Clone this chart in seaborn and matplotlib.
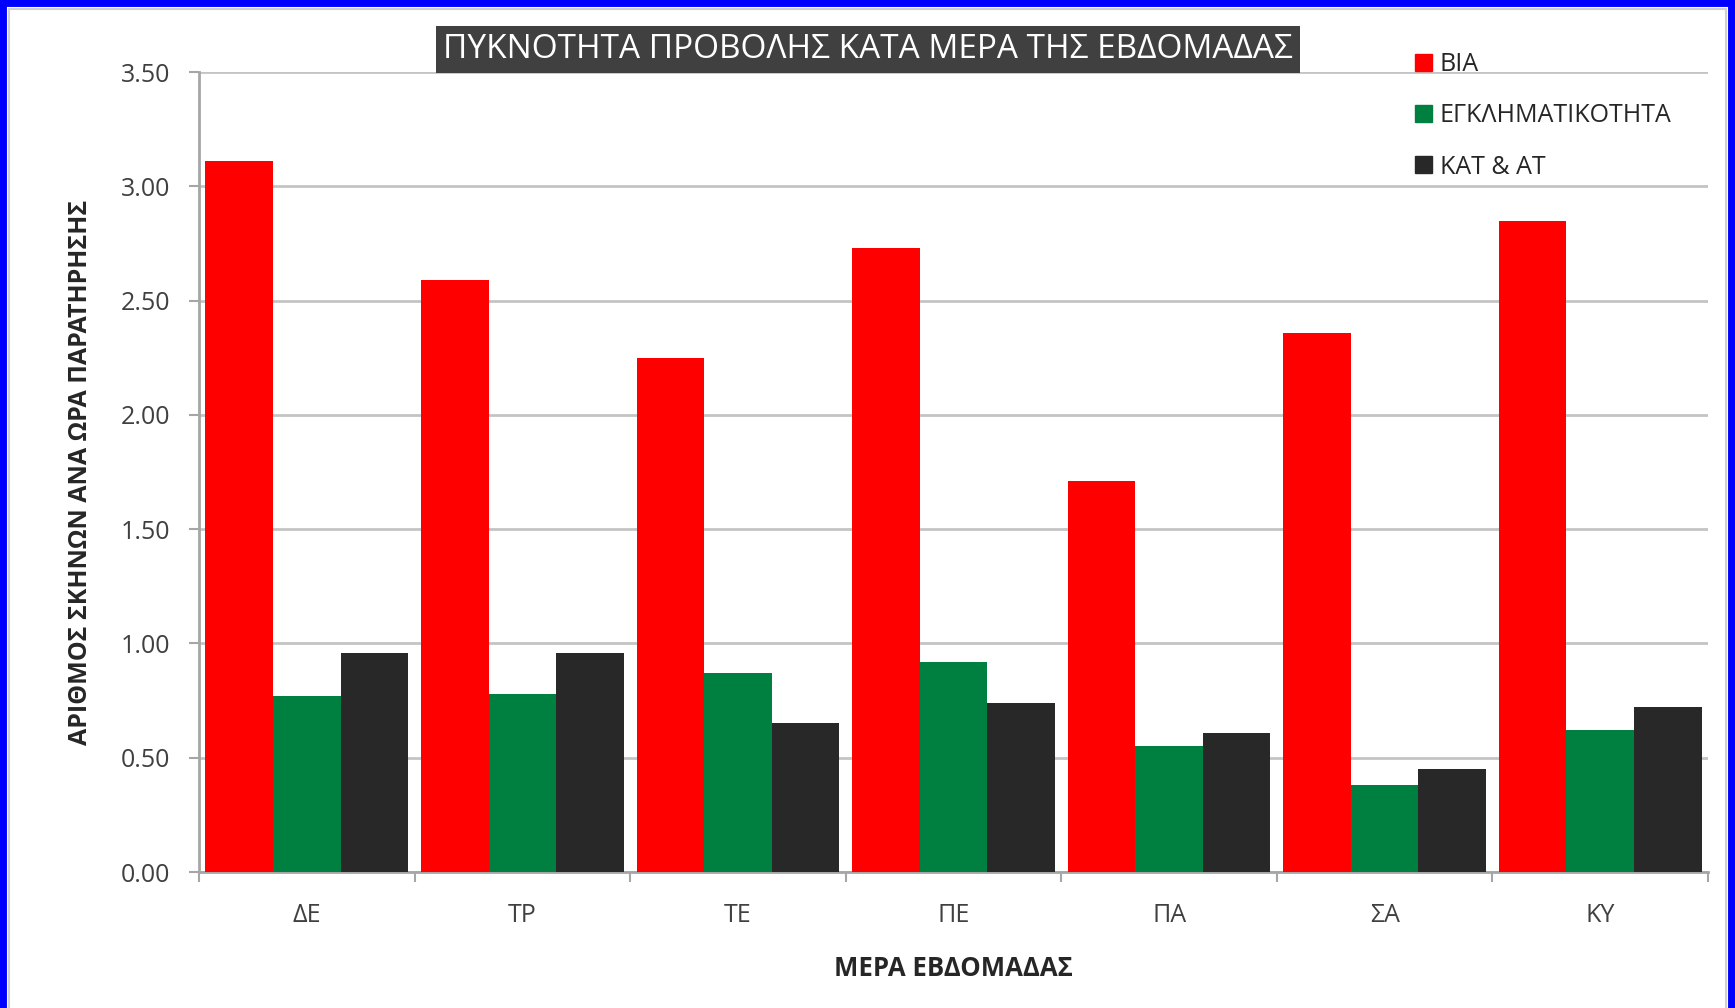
import numpy as np
import pandas as pd
import matplotlib.pyplot as plt
import matplotlib.patches as mpatches
import seaborn as sns

days = ["ΔΕ", "ΤΡ", "ΤΕ", "ΠΕ", "ΠΑ", "ΣΑ", "ΚΥ"]
series = ["ΒΙΑ", "ΕΓΚΛΗΜΑΤΙΚΟΤΗΤΑ", "ΚΑΤ & ΑΤ"]
via = [3.11, 2.59, 2.25, 2.73, 1.71, 2.36, 2.85]
egklim = [0.77, 0.78, 0.87, 0.92, 0.55, 0.38, 0.62]
kat_at = [0.96, 0.96, 0.65, 0.74, 0.61, 0.45, 0.72]
colors = ["#ff0000", "#008040", "#282828"]

df = pd.DataFrame({
    "day": days * 3,
    "series": [series[0]] * 7 + [series[1]] * 7 + [series[2]] * 7,
    "value": via + egklim + kat_at,
})

sns.set_style("white")
plt.rcParams['font.family'] = ['Open Sans', 'DejaVu Sans']

fig = plt.figure(figsize=(17.35, 10.08), dpi=100)
ax = fig.add_axes([199 / 1735, 1 - 872 / 1008, 1509 / 1735, 800 / 1008])

sns.barplot(data=df, x="day", y="value", hue="series", order=days,
            hue_order=series, palette=colors, saturation=1, width=0.94,
            gap=0, linewidth=0, legend=False, ax=ax, zorder=3)

ax.set_ylim(0, 3.5)
ax.set_xlim(-0.5, 6.5)
ax.set_yticks(np.arange(0, 3.51, 0.5))
ax.set_yticklabels([f"{v:.2f}" for v in np.arange(0, 3.51, 0.5)])
ax.yaxis.grid(True, color="#c4c4c4", linewidth=2, zorder=0)
ax.set_axisbelow(True)

for s in ["top", "right"]:
    ax.spines[s].set_visible(False)
for s in ["left", "bottom"]:
    ax.spines[s].set_color("#a6a6a6")
    ax.spines[s].set_linewidth(2)

ax.tick_params(axis="y", length=7, width=1.5, color="#a6a6a6", pad=14,
               labelsize=18, labelcolor="#404040", left=True)
ax.tick_params(axis="x", length=0, pad=22, labelsize=18, labelcolor="#404040")
ax.set_xticks(np.arange(-0.5, 7, 1), minor=True)
ax.tick_params(axis="x", which="minor", length=7, width=1.5, color="#a6a6a6",
               bottom=True)

ax.set_ylabel("ΑΡΙΘΜΟΣ ΣΚΗΝΩΝ ΑΝΑ ΩΡΑ ΠΑΡΑΤΗΡΗΣΗΣ", fontsize=18,
              fontweight="bold", labelpad=20)
ax.set_xlabel("ΜΕΡΑ ΕΒΔΟΜΑΔΑΣ", fontsize=18.5, fontweight="bold", labelpad=20)

# title in a dark box
fig.text(868 / 1735, 1 - 49.5 / 1008, "ΠΥΚΝΟΤΗΤΑ ΠΡΟΒΟΛΗΣ ΚΑΤΑ ΜΕΡΑ ΤΗΣ ΕΒΔΟΜΑΔΑΣ",
         ha="center", va="center", color="white", fontsize=24,
         bbox=dict(facecolor="#404040", edgecolor="none", pad=5))

handles = [mpatches.Patch(color=c, label=s) for c, s in zip(colors, series)]
fig.legend(handles=handles, loc="upper left", bbox_to_anchor=(1405 / 1735, 1 - 42 / 1008),
           frameon=False, fontsize=18, handlelength=0.68, handleheight=0.68,
           handletextpad=0.3, labelspacing=1.05, borderaxespad=0)

# blue frame around the picture
fig.add_artist(mpatches.Rectangle((0, -0.05), 1, 1.05, transform=fig.transFigure,
                                  fill=False, edgecolor="#0000ff", linewidth=10))
fig.add_artist(mpatches.Rectangle((9 / 1735, -0.05), 1 - 18 / 1735, 1.05 - 9 / 1008,
                                  transform=fig.transFigure, fill=False,
                                  edgecolor="#d0d0d0", linewidth=1.5))

plt.savefig("out.png", dpi=100)
